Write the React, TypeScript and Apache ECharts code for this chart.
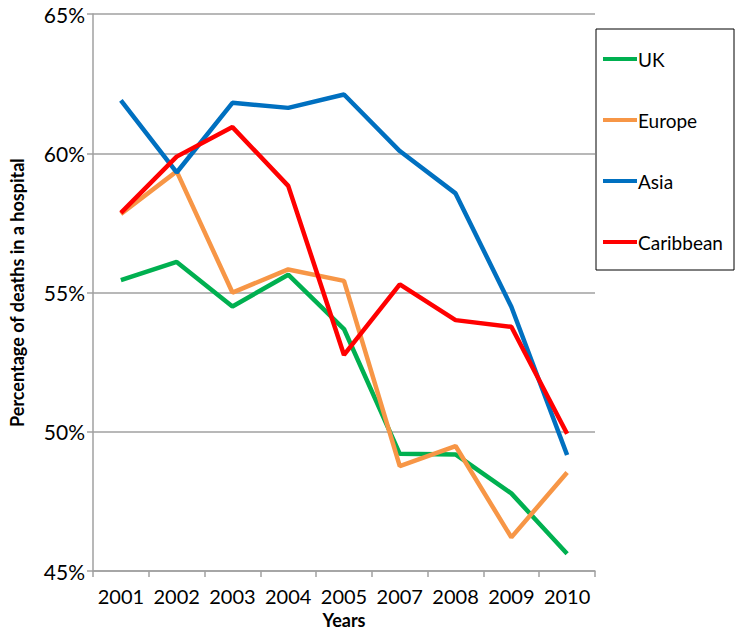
import React, { useEffect, useRef } from "react";
import * as echarts from "echarts";

const years = ["2001", "2002", "2003", "2004", "2005", "2007", "2008", "2009", "2010"];
const uk = [55.45, 56.1, 54.5, 55.64, 53.69, 49.21, 49.19, 47.79, 45.62];
const europe = [57.82, 59.35, 55.0, 55.83, 55.42, 48.77, 49.49, 46.21, 48.54];
const asia = [61.9, 59.31, 61.81, 61.63, 62.11, 60.08, 58.56, 54.49, 49.17];
const caribbean = [57.86, 59.88, 60.94, 58.83, 52.76, 55.29, 54.01, 53.77, 49.93];

const FONT = "Lato, 'Open Sans', sans-serif";

export default function App() {
  const ref = useRef<HTMLDivElement>(null);
  useEffect(() => {
    const chart = echarts.init(ref.current!, null, { renderer: "svg" });
    const mk = (name: string, data: number[], color: string) => ({
      name,
      type: "line",
      data,
      symbol: "none",
      lineStyle: { width: 4.5, color },
      itemStyle: { color },
    });
    chart.setOption({
      animation: false,
      backgroundColor: "#fff",
      grid: { left: 86, right: 146, top: 14, bottom: 60, containLabel: false },
      graphic: [
        {
          type: "rect",
          shape: { x: 596, y: 29, width: 138, height: 241 },
          style: { fill: "none", stroke: "#000", lineWidth: 1 },
          z: 10,
        },
      ],
      legend: {
        orient: "vertical",
        left: 603,
        top: 49,
        padding: 0,
        itemWidth: 34,
        itemHeight: 4,
        itemGap: 41,
        icon: "rect",
        textStyle: { fontFamily: FONT, fontSize: 19, color: "#000", lineHeight: 20, padding: [0, 0, 0, -4] },
        data: ["UK", "Europe", "Asia", "Caribbean"],
      },
      xAxis: {
        type: "category",
        data: years,
        boundaryGap: true,
        name: "Years",
        nameLocation: "middle",
        nameGap: 37,
        nameTextStyle: { fontFamily: FONT, fontSize: 18, fontWeight: "bold", color: "#000" },
        axisLine: { lineStyle: { color: "#A0A0A0", width: 1.5 } },
        axisTick: { show: true, length: 6, lineStyle: { color: "#A0A0A0", width: 1.5 } },
        axisLabel: { fontFamily: FONT, fontSize: 20, color: "#000", margin: 15, interval: 0 },
        splitLine: { show: false },
      },
      yAxis: {
        type: "value",
        min: 45,
        max: 65,
        interval: 5,
        name: "Percentage of deaths in a hospital",
        nameLocation: "middle",
        nameGap: 67,
        nameTextStyle: { fontFamily: FONT, fontSize: 18, fontWeight: "bold", color: "#000" },
        axisLine: { show: true, lineStyle: { color: "#A0A0A0", width: 1.5 } },
        axisTick: { show: true, length: 6, lineStyle: { color: "#A0A0A0", width: 1.5 } },
        axisLabel: { fontFamily: FONT, fontSize: 21, color: "#000", margin: 8, formatter: "{value}%" },
        splitLine: { show: true, lineStyle: { color: "#A0A0A0", width: 1.5 } },
      },
      series: [
        mk("UK", uk, "#00B050"),
        mk("Europe", europe, "#F79646"),
        mk("Asia", asia, "#0070C0"),
        mk("Caribbean", caribbean, "#FF0000"),
      ],
    });
    return () => chart.dispose();
  }, []);
  return <div ref={ref} style={{ width: 741, height: 634, position: "absolute", left: 0, top: 0 }} />;
}
